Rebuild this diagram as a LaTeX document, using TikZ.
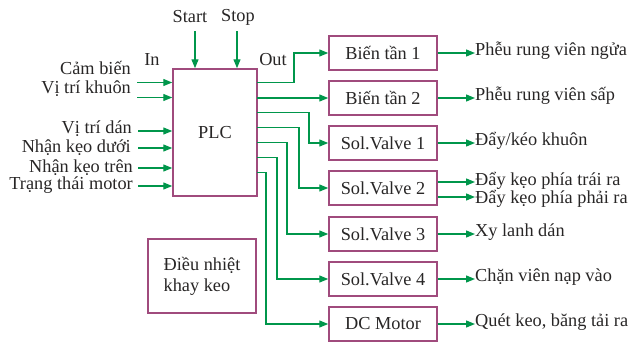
\documentclass[tikz,border=0pt]{standalone}
\usepackage{fontspec}
\setmainfont{Liberation Serif}
\usetikzlibrary{arrows.meta}
\definecolor{boxpink}{RGB}{160,75,125}
\definecolor{sigreen}{RGB}{0,150,75}
\definecolor{inkgray}{RGB}{40,38,38}
\tikzset{
  blk/.style={draw=boxpink, line width=1.5pt, fill=white, minimum width=108pt, minimum height=34pt, inner sep=0pt},
  sig/.style={draw=sigreen, line width=1.3pt, -{Triangle[length=9pt,width=7pt]}},
  lbl/.style={inner sep=0pt, text=inkgray}
}
\begin{document}
\begin{tikzpicture}[x=1pt, y=-1pt, font=\fontsize{18.3}{21}\selectfont, text=inkgray]
    \useasboundingbox (0,0) rectangle (632,341);
    % PLC
    \node[blk, minimum width=84pt, minimum height=127pt] (plc) at (215,132.5) {PLC};
    \node[lbl] (start) at (190,17) {Start};
    \node[lbl] (stop) at (238,17) {Stop};
    \node[lbl] (in) at (152,60) {In};
    \node[lbl] (out) at (273,60) {Out};
    \coordinate (s1) at (195,31);
    \coordinate (s2) at (237,31);
    \draw[sig] (s1) -- (s1 |- plc.north);
    \draw[sig] (s2) -- (s2 |- plc.north);
    % inputs
    \node[lbl, anchor=east] (cb) at (131,68) {Cảm biến};
    \node[lbl, anchor=east] (vtk) at (131,89) {Vị trí khuôn};
    \node[lbl, anchor=east] (vtd) at (132,129) {Vị trí dán};
    \node[lbl, anchor=east] (nkd) at (131,148) {Nhận kẹo dưới};
    \node[lbl, anchor=east] (nkt) at (133,168) {Nhận kẹo trên};
    \node[lbl, anchor=east] (ttm) at (133,185) {Trạng thái motor};
    \coordinate (i1) at (137,82.5);
    \coordinate (i2) at (137,97.5);
    \coordinate (i3) at (138,131);
    \coordinate (i4) at (138,148);
    \coordinate (i5) at (138,168);
    \coordinate (i6) at (138,186);
    \foreach \i in {1,...,6}
        \draw[sig] (i\i) -- (i\i -| plc.west);
    % outputs
    \node[blk] (bt1) at (383,53) {Biến tần 1};
    \node[blk] (bt2) at (383,98) {Biến tần 2};
    \node[blk] (sv1) at (383,143) {Sol.Valve 1};
    \node[blk] (sv2) at (383,188) {Sol.Valve 2};
    \node[blk] (sv3) at (383,234) {Sol.Valve 3};
    \node[blk] (sv4) at (383,279) {Sol.Valve 4};
    \node[blk] (dcm) at (383,324) {DC Motor};
    \coordinate (o1) at (257,82.5);
    \coordinate (o2) at (257,98);
    \coordinate (o3) at (257,112.5);
    \coordinate (o4) at (257,127.5);
    \coordinate (o5) at (257,142.5);
    \coordinate (o6) at (257,157.5);
    \coordinate (o7) at (257,172.5);
    \draw[sig] (o1) -- ++(37,0) |- (bt1);
    \draw[sig] (o2) -- (o2 -| bt2.west);
    \draw[sig] (o3) -- ++(52,0) |- (sv1);
    \draw[sig] (o4) -- ++(42,0) |- (sv2);
    \draw[sig] (o5) -- ++(30,0) |- (sv3);
    \draw[sig] (o6) -- ++(20,0) |- (sv4);
    \draw[sig] (o7) -- ++(9,0) |- (dcm);
    % actuators
    \node[lbl, anchor=west] (a1) at (475,51) {Phễu rung viên ngửa};
    \node[lbl, anchor=west] (a2) at (475,96) {Phễu rung viên sấp};
    \node[lbl, anchor=west] (a3) at (475,141) {Đẩy/kéo khuôn};
    \node[lbl, anchor=west] (a4) at (475,181) {Đẩy kẹo phía trái ra};
    \node[lbl, anchor=west] (a5) at (475,199) {Đẩy kẹo phía phải ra};
    \node[lbl, anchor=west] (a6) at (475,232) {Xy lanh dán};
    \node[lbl, anchor=west] (a7) at (475,277) {Chặn viên nạp vào};
    \node[lbl, anchor=west] (a8) at (475,322) {Quét keo, băng tải ra};
    \draw[sig] (bt1) -- (bt1 -| a1.west);
    \draw[sig] (bt2) -- (bt2 -| a2.west);
    \draw[sig] (sv1) -- (sv1 -| a3.west);
    \draw[sig] ([yshift=6pt]sv2.east) -- ([yshift=6pt]sv2.east -| a4.west);
    \draw[sig] ([yshift=-9pt]sv2.east) -- ([yshift=-9pt]sv2.east -| a5.west);
    \draw[sig] (sv3) -- (sv3 -| a6.west);
    \draw[sig] (sv4) -- (sv4 -| a7.west);
    \draw[sig] (dcm) -- (dcm -| a8.west);
    % heater
    \node[blk, minimum width=108pt, minimum height=74pt, align=left] (dnk) at (202,276) {Điều nhiệt\\khay keo};
\end{tikzpicture}
\end{document}
